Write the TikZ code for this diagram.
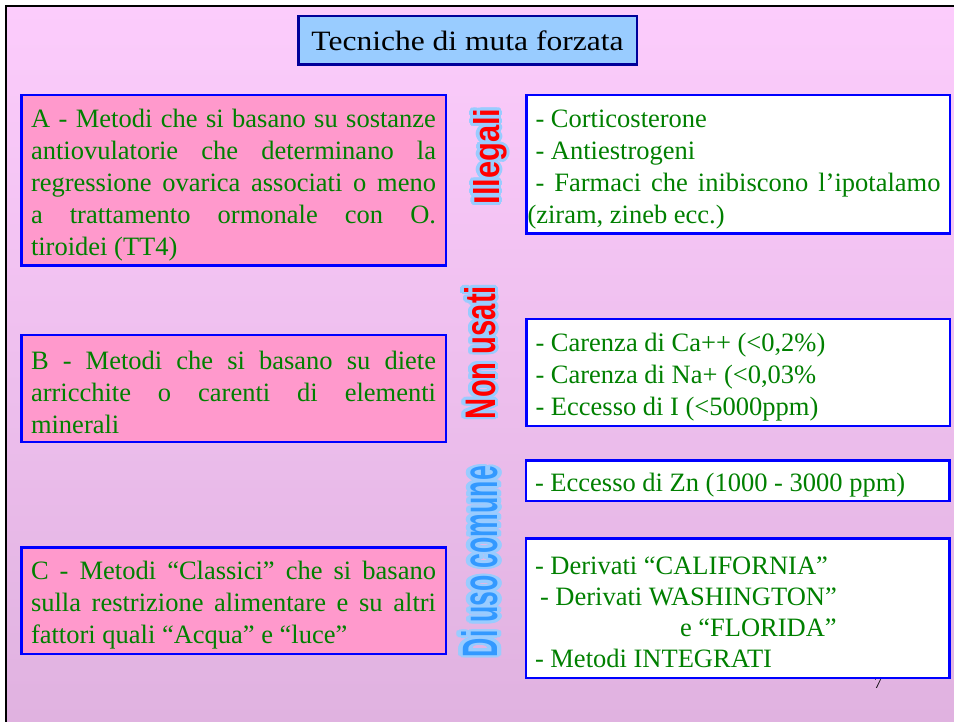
\documentclass[tikz,border=0pt]{standalone}
\usepackage{fontspec}
\setmainfont{Liberation Serif}
\newfontfamily\wordartfont{Liberation Sans}
\usepackage{graphicx}
\usepackage{contour}
\contourlength{0.9pt}
\tolerance=10000
\hyphenpenalty=10000

\definecolor{slidetop}{RGB}{252,204,252}
\definecolor{slidebottom}{RGB}{224,178,224}
\definecolor{titlefill}{RGB}{153,204,255}
\definecolor{titledraw}{RGB}{0,0,153}
\definecolor{boxpink}{RGB}{255,153,204}
\definecolor{textgreen}{RGB}{0,128,0}
\definecolor{outlineblue}{RGB}{153,204,255}
\definecolor{labelblue}{RGB}{51,153,255}

\newcommand{\wordart}[4]{\resizebox{#1}{#2}{\wordartfont\bfseries\color{#3}\contour{outlineblue}{#4}}}

\begin{document}
\begin{tikzpicture}[x=1pt,y=-1pt,
        main box/.style={draw=blue,line width=2.5pt,text=textgreen,font=\fontsize{26.5}{32}\selectfont,text width=405pt,inner ysep=0pt,execute at begin node={\rule{0pt}{27pt}}},
        left box/.style={main box,fill=boxpink,align=justify,inner xsep=9.75pt},
        right box/.style={main box,fill=white,align=justify,inner xsep=9.25pt},
        side label/.style={rotate=90,anchor=base,inner sep=0pt}]
            \useasboundingbox (0,0) rectangle (954,722);
            \fill[white] (0,0) rectangle (954,722);
            \shade[top color=slidetop,bottom color=slidebottom] (6,6) rectangle (954,722);
            \draw[line width=2pt] (6,722) -- (6,6) -- (954,6);

            \node[draw=titledraw,fill=titlefill,line width=2.5pt,minimum width=338.5pt,minimum height=48.5pt,inner sep=0pt,font=\fontsize{28}{32}\selectfont] (t) at (467.5,40.5) {\resizebox{312pt}{\height}{Tecniche di muta forzata}};

            \node[left box,minimum height=170.5pt] (A) at (233.5,180.5) {A - Metodi che si basano su sostanze\linebreak antiovulatorie che determinano la\linebreak regressione ovarica associati o meno\linebreak a trattamento ormonale con O.\linebreak tiroidei (TT4)};
            \node[left box,minimum height=106.5pt] (B) at (233.5,388.5) {B - Metodi che si basano su diete\linebreak arricchite o carenti di elementi\linebreak minerali};
            \node[left box,minimum height=106.5pt] (C) at (233.5,600.5) {C - Metodi “Classici” che si basano\linebreak sulla restrizione alimentare e su altri\linebreak fattori quali “Acqua” e “luce”};

            \node[side label] (l1) at (499,156.5) {\wordart{96pt}{26pt}{red}{Illegali}};
            \node[side label] (l2) at (495,352.5) {\wordart{133pt}{31pt}{red}{Non usati}};
            \node[side label] (l3) at (497,561.5) {\wordart{191pt}{36pt}{labelblue}{Di uso comune}};

            \node[font=\fontsize{16}{16}\selectfont,anchor=base] (p) at (878,688) {7};

            \node[right box,minimum height=138.5pt] (1) at (738,164.5) {- Corticosterone\\ - Antiestrogeni\\ - Farmaci che inibiscono l’ipotalamo\linebreak \hspace*{-8pt}(ziram, zineb ecc.)};
            \node[right box,minimum height=106.5pt] (2) at (738,372.5) {- Carenza di Ca++ (<0,2\%)\\ - Carenza di Na+ (<0,03\%\\ - Eccesso di I (<5000ppm)};
            \node[right box,minimum height=40.5pt] (3) at (737.5,480.5) {- Eccesso di Zn (1000 - 3000 ppm)};
            \node[right box,minimum height=139.5pt,font=\fontsize{26.5}{31}\selectfont] (4) at (737.5,608) {- Derivati “CALIFORNIA”\\ \hspace*{5pt}- Derivati WASHINGTON”\\ \hspace*{145pt}e “FLORIDA”\\ - Metodi INTEGRATI};
        \end{tikzpicture}
\end{document}
